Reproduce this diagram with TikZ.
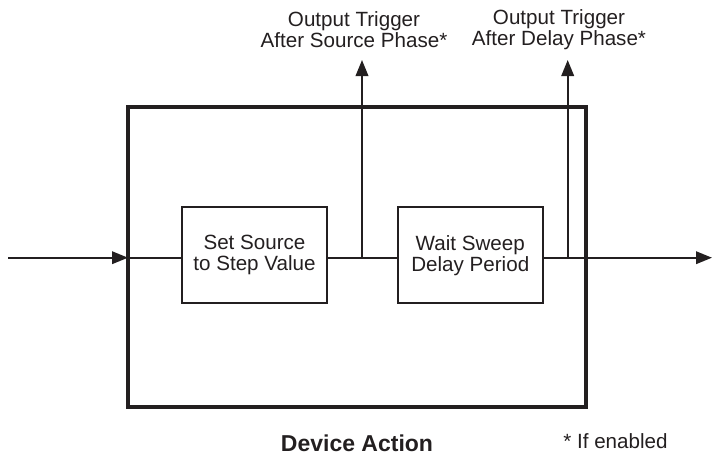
\documentclass[tikz,border=0pt]{standalone}
\usepackage{fontspec}
\setmainfont{Liberation Sans}
\usetikzlibrary{arrows.meta}
\definecolor{ink}{HTML}{231F20}
\begin{document}
\begin{tikzpicture}[x=1pt,y=-1pt,
  every node/.style={inner sep=0pt,outer sep=0pt,text=ink,font=\fontsize{20.6}{21}\selectfont},
  procbox/.style={draw=ink,line width=2pt,minimum width=145.5pt,minimum height=96pt,align=center},
  outerbox/.style={draw=ink,line width=3.3pt,minimum width=458pt,minimum height=300pt},
  wire/.style={draw=ink,line width=2pt},
  arrowed/.style={wire,-{Triangle[length=16pt,width=12.5pt]}},
  lbl/.style={align=center}
]
\useasboundingbox (0,0) rectangle (713,455);
% outer box
\node[outerbox] (dev) at (357,257) {};
% process boxes
\node[procbox] (b1) at (254.5,255.3) {Set Source\\to Step Value};
\node[procbox] (b2) at (470.3,255.3) {Wait Sweep\\Delay Period};
% coordinates
\coordinate (in) at (8,257.7);
\coordinate (out) at (712,257.7);
\coordinate (j1) at (362,257.7);
\coordinate (j2) at (567.7,257.7);
\coordinate (t1) at (362,60);
\coordinate (t2) at (567.7,60);
% connectors
\draw[arrowed] (in) -- (in -| dev.west);
\draw[wire] (in -| dev.west) -- (in -| b1.west);
\draw[wire] (in -| b1.east) -- (in -| b2.west);
\draw[arrowed] (in -| b2.east) -- (out);
\draw[arrowed] (j1) -- (t1);
\draw[arrowed] (j2) -- (t2);
% labels
\node[lbl] (l1) at (354,30) {Output Trigger\\After Source Phase*};
\node[lbl] (l2) at (559,30) {Output Trigger\\After Delay Phase*};
\node[anchor=base,font=\fontsize{23}{24}\selectfont\bfseries] (da) at (357,451.5) {Device Action};
\node[anchor=base] (ie) at (615.5,448) {* If enabled};
\end{tikzpicture}
\end{document}
